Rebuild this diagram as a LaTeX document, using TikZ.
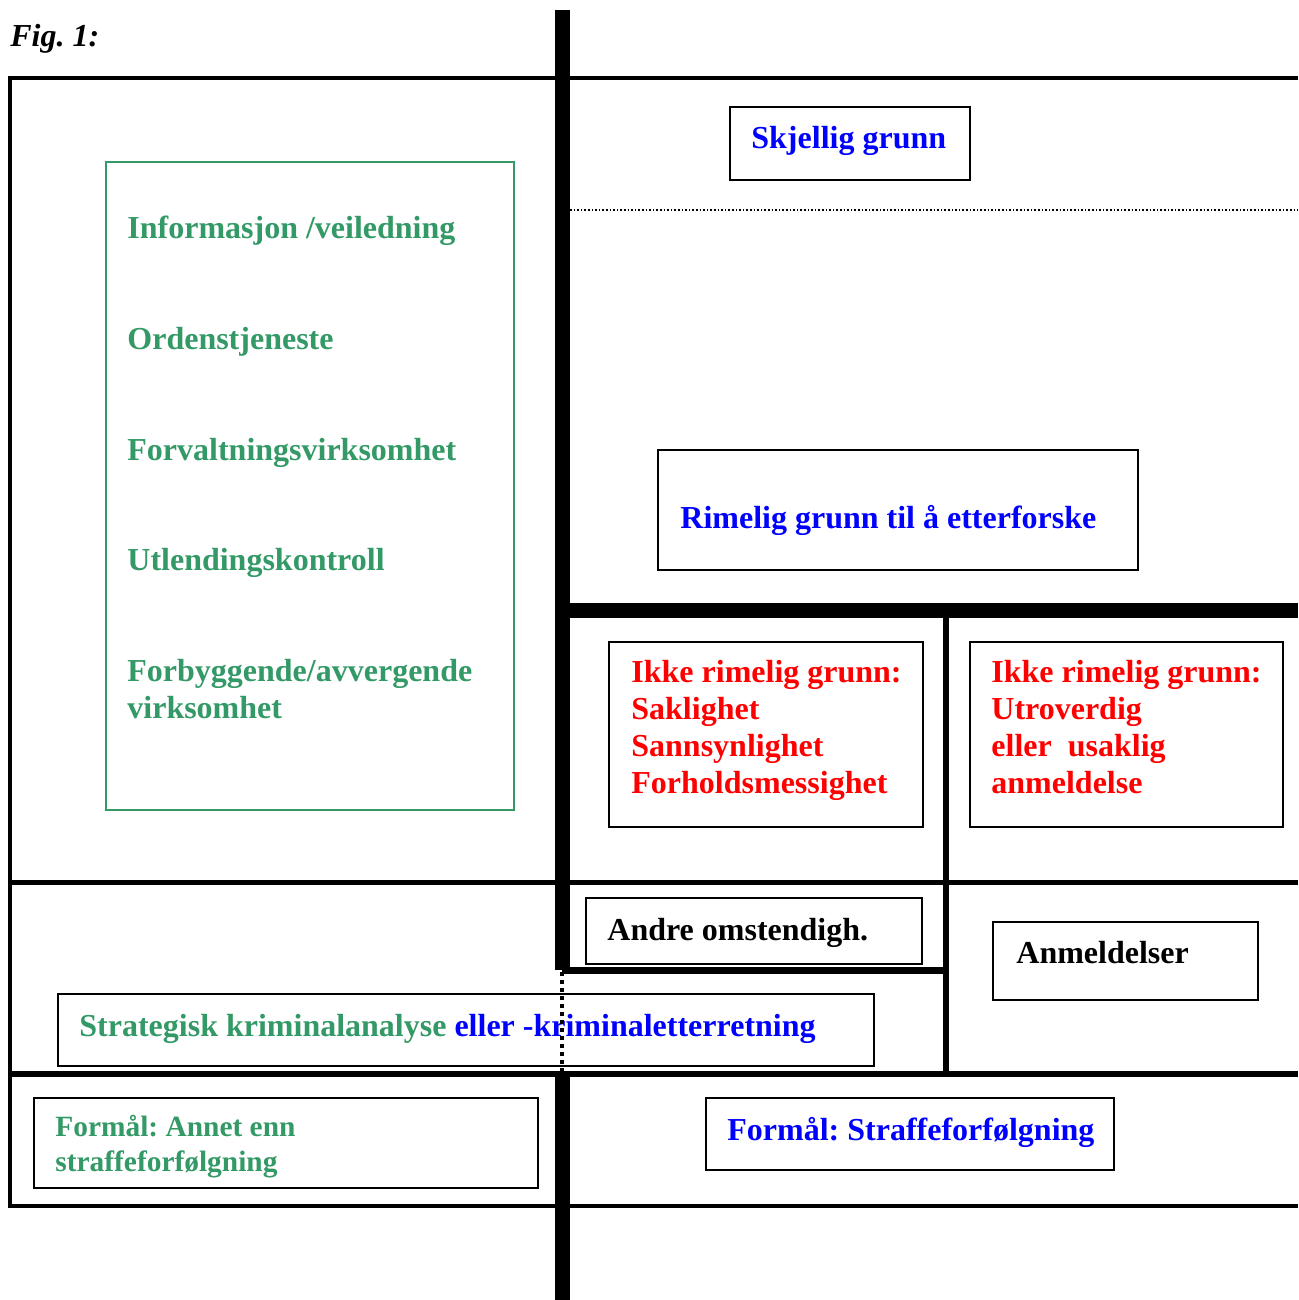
\documentclass[tikz,border=0pt]{standalone}
\usepackage{fontspec}
\setmainfont{Liberation Serif}
\frenchspacing
\definecolor{seagrn}{RGB}{51,153,102}
\definecolor{pureblue}{RGB}{0,0,255}
\definecolor{purered}{RGB}{255,0,0}
\tikzset{
  frameline/.style={line width=2pt},
  heavyline/.style={line width=7.5pt},
  boxline/.style={draw, line width=1pt},
  label/.style={anchor=base west, inner sep=0pt, align=left,
    font=\fontsize{16}{18.5}\selectfont\bfseries},
  smalllabel/.style={label, font=\fontsize{14.7}{17.5}\selectfont\bfseries}
}
\begin{document}
\begin{tikzpicture}[x=0.5pt,y=-0.5pt]
  \useasboundingbox (0,0) rectangle (1298,1300);
  % Title
  \node[label, font=\fontsize{16}{18.5}\selectfont\bfseries\itshape] (fig) at (10,47) {Fig. 1:};

  % Outer frame
  \draw[frameline] (1298,78) -- (10,78) -- (10,1206) -- (1298,1206);
  \draw[line width=2.5pt] (10,882) -- (1298,882);
  \draw[line width=3pt] (10,1074) -- (1298,1074);
  % Heavy dividers
  \draw[heavyline] (562,10) -- (562,970);
  \draw[heavyline] (562,1077) -- (562,1300);
  \draw[heavyline] (562,610) -- (1298,610);
  \draw[line width=3.5pt] (562,970.5) -- (946,970.5);
  \draw[line width=3pt] (946,614) -- (946,1074);
  \draw[line width=0.8pt, dash pattern=on 0.8pt off 1pt] (570,210) -- (1298,210);

  % Boxes
  \draw[boxline, seagrn] (106,162) rectangle (514,810);
  \draw[boxline] (730,107) rectangle (970,180);
  \draw[boxline] (658,450) rectangle (1138,570);
  \draw[boxline] (609,642) rectangle (923,827);
  \draw[boxline] (970,642) rectangle (1283,827);
  \draw[boxline] (586,898) rectangle (922,964);
  \draw[boxline] (993,922) rectangle (1258,1000);
  \draw[boxline] (58,994) rectangle (874,1066);
  \draw[boxline] (34,1098) rectangle (538,1188);
  \draw[boxline] (706,1098) rectangle (1114,1170);

  % Left column (multi-line labels sit on their last baseline)
  \node[label, seagrn] (info) at (127,239) {Informasjon /veiledning};
  \node[label, seagrn] (orden) at (127,349) {Ordenstjeneste};
  \node[label, seagrn] (forv) at (127,460) {Forvaltningsvirksomhet};
  \node[label, seagrn] (utl) at (127,570) {Utlendingskontroll};
  \node[label, seagrn] (forb) at (127,718) {Forbyggende/avvergende\\virksomhet};

  % Right column
  \node[label, pureblue] (skj) at (751,149) {Skjellig grunn};
  \node[label, pureblue] (rim) at (680,528) {Rimelig grunn til å etterforske};
  \node[label, purered] (ikkeA) at (631,793) {Ikke rimelig grunn:\\Saklighet\\Sannsynlighet\\Forholdsmessighet};
  \node[label, purered] (ikkeB) at (991,793) {Ikke rimelig grunn:\\Utroverdig\\eller~~usaklig\\anmeldelse};
  \node[label] (andre) at (607,940) {Andre omstendigh.};
  \node[label] (anm) at (1016,963) {Anmeldelser};
  \node[label, seagrn] (strat) at (79,1036) {Strategisk kriminalanalyse \textcolor{pureblue}{eller -kriminaletterretning}};
  \node[smalllabel, seagrn] (annet) at (55,1171) {Formål: Annet enn\\straffeforfølgning};
  \node[label, pureblue] (straff) at (727,1140) {Formål: Straffeforfølgning};

  % Dotted crossing
  \draw[line width=2pt, dash pattern=on 2pt off 2pt] (562,972) -- (562,1072);
\end{tikzpicture}
\end{document}
